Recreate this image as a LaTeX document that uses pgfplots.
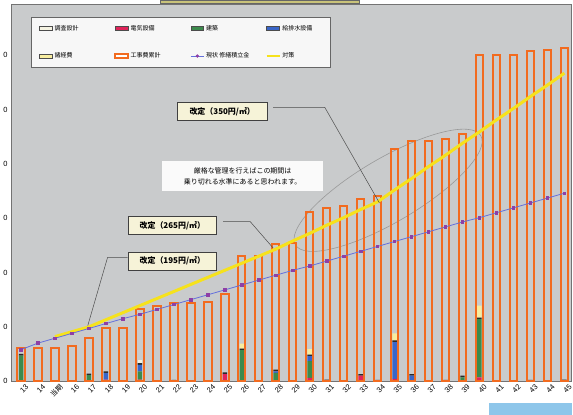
\documentclass[border=0pt]{standalone}
\usepackage{pgfplots}
\pgfplotsset{compat=1.18}
\usepackage{pgfplotstable}
\usepackage{fontspec}
\setmainfont{Noto Sans CJK JP}
\newfontfamily\latinfont{Liberation Sans}
\newfontfamily\cjkfont{Noto Sans CJK JP}

\definecolor{plotbg}{HTML}{C9CBCC}
\definecolor{barorange}{HTML}{F26B1F}
\definecolor{elec}{HTML}{E0245A}
\definecolor{arch}{HTML}{3C8A4C}
\definecolor{water}{HTML}{3A66C8}
\definecolor{misc}{HTML}{F7EDA0}
\definecolor{survey}{HTML}{F5F3E2}
\definecolor{capc}{HTML}{2A2A2A}
\definecolor{fundline}{HTML}{6470DC}
\definecolor{fundmark}{HTML}{8E3FA6}
\definecolor{planline}{HTML}{F6E21C}
\definecolor{boxfill}{HTML}{F6F3D8}
\definecolor{titlefill}{HTML}{C9C37A}
\definecolor{scanblue}{HTML}{8EC6EA}

% yearly cost components (stacked)
\pgfplotstableread{
i red green blue cap cream survey
0 0 0.47 0 0.03 0 0
1 0 0 0 0 0 0
2 0 0 0 0 0 0
3 0 0 0 0 0 0
4 0 0.11 0 0.03 0 0
5 0.03 0 0.12 0.03 0 0
6 0 0 0 0 0 0
7 0.03 0.15 0.12 0.03 0 0.05
8 0 0 0 0 0 0
9 0 0 0 0.025 0 0
10 0 0 0 0 0 0
11 0 0 0 0 0 0
12 0.13 0 0 0.03 0 0
13 0.02 0.55 0 0.03 0.09 0
14 0 0 0 0 0 0
15 0 0.15 0.03 0.03 0 0
16 0 0 0 0 0 0
17 0.06 0.31 0.09 0.03 0.10 0
18 0 0 0 0.03 0 0
19 0 0 0 0 0 0
20 0.10 0 0 0.03 0 0
21 0 0 0 0.025 0 0
22 0.04 0 0.68 0.03 0.13 0
23 0 0 0.10 0.03 0 0
24 0 0 0 0 0 0
25 0 0 0 0.025 0 0
26 0 0.07 0 0.03 0 0
27 0.07 1.07 0 0.03 0.22 0
28 0 0 0 0 0 0
29 0 0 0 0 0 0
30 0 0 0 0.025 0 0
31 0 0 0 0 0 0
32 0 0 0 0.03 0 0
}\stacktab

% cumulative construction cost
\pgfplotstableread{
i total
0 0.61
1 0.61
2 0.61
3 0.65
4 0.80
5 0.98
6 0.98
7 1.33
8 1.38
9 1.44
10 1.44
11 1.45
12 1.61
13 2.31
14 2.31
15 2.53
16 2.55
17 3.12
18 3.19
19 3.22
20 3.35
21 3.40
22 4.28
23 4.42
24 4.42
25 4.45
26 4.55
27 6.00
28 6.01
29 6.01
30 6.07
31 6.09
32 6.14
}\totaltab

% current reserve fund
\pgfplotstableread{
i fund
0 0.58
1 0.70
2 0.79
3 0.88
4 0.97
5 1.06
6 1.15
7 1.23
8 1.32
9 1.41
10 1.50
11 1.59
12 1.68
13 1.77
14 1.86
15 1.95
16 2.04
17 2.12
18 2.21
19 2.30
20 2.39
21 2.48
22 2.57
23 2.66
24 2.75
25 2.84
26 2.93
27 3.01
28 3.10
29 3.19
30 3.28
31 3.37
32 3.46
}\fundtab

% countermeasure plan
\pgfplotstableread{
i plan
2 0.82
3 0.91
4 1.00
5 1.13
6 1.26
7 1.39
8 1.52
9 1.65
10 1.78
11 1.91
12 2.04
13 2.17
14 2.30
15 2.43
16 2.58
17 2.72
18 2.87
19 3.01
20 3.16
21 3.30
22 3.52
23 3.73
24 3.95
25 4.16
26 4.38
27 4.59
28 4.81
29 5.02
30 5.24
31 5.45
32 5.67
}\plantab

\pgfplotsset{
  common/.style={
    scale only axis, width=563pt, height=378.5pt,
    xmin=-0.59, xmax=32.43, ymin=0, ymax=6.94,
    clip=false,
  },
}

\begin{document}
\begin{tikzpicture}
\begin{axis}[common,
  axis background/.style={fill=plotbg},
  axis line style={draw=black!55, line width=0.6pt},
  xtick={0,...,32},
  xticklabels={13,14,{\cjkfont\fontsize{7}{8}\selectfont 当期},16,17,18,19,20,21,22,23,24,25,26,27,28,29,30,31,32,33,34,35,36,37,38,39,40,41,42,43,44,45},
  ytick={0,1,2,3,4,5,6},
  yticklabels={0,0,0,0,0,0,0},
  major tick length=0pt,
  tick style={draw=none},
  xticklabel style={rotate=45, anchor=north east, font=\latinfont\fontsize{7.5}{8}\selectfont, inner sep=0.5pt, yshift=-4pt, xshift=2pt},
  yticklabel style={font=\latinfont\fontsize{7.5}{8}\selectfont},
  ybar stacked, bar width=4.5pt,
]
\addplot[fill=elec, draw=none] table[x=i,y=red]{\stacktab};
\addplot[fill=arch, draw=none] table[x=i,y=green]{\stacktab};
\addplot[fill=water, draw=none] table[x=i,y=blue]{\stacktab};
\addplot[fill=capc, draw=none] table[x=i,y=cap]{\stacktab};
\addplot[fill=misc, draw=none] table[x=i,y=cream]{\stacktab};
\addplot[fill=survey, draw=none] table[x=i,y=survey]{\stacktab};
% cut-off title box at the top and scan mark at bottom right
\fill[titlefill, draw=black!60] ([yshift=1pt]axis description cs:0.266,1) rectangle ([yshift=4pt]axis description cs:0.6217,1);
\fill[scanblue] ([yshift=-22pt]axis description cs:0.853,0) rectangle ([yshift=-34pt]axis description cs:1,0);
\end{axis}

\begin{axis}[common,
  hide axis,
  legend columns=4,
  legend cell align=left,
  legend style={at={(0.0355,0.9657)}, anchor=north west, fill=white!97!black, draw=black!60, line width=0.5pt,
    font=\fontsize{6}{7}\selectfont, row sep=17pt, inner xsep=8pt, inner ysep=6pt,
    /tikz/every even column/.append style={column sep=4pt}},
]
\addlegendimage{legend image code/.code={\draw[fill=survey,draw=black!70,line width=0.6pt] (0pt,-2pt) rectangle (13pt,2pt);}}
\addlegendentry{\makebox[54pt][l]{調査設計}}
\addlegendimage{legend image code/.code={\draw[fill=elec,draw=black!70,line width=0.6pt] (0pt,-2pt) rectangle (13pt,2pt);}}
\addlegendentry{\makebox[54pt][l]{電気設備}}
\addlegendimage{legend image code/.code={\draw[fill=arch,draw=black!70,line width=0.6pt] (0pt,-2pt) rectangle (13pt,2pt);}}
\addlegendentry{\makebox[54pt][l]{建築}}
\addlegendimage{legend image code/.code={\draw[fill=water,draw=black!70,line width=0.6pt] (0pt,-2pt) rectangle (13pt,2pt);}}
\addlegendentry{\makebox[38pt][l]{給排水設備}}
\addlegendimage{legend image code/.code={\draw[fill=misc,draw=black!70,line width=0.6pt] (0pt,-2pt) rectangle (13pt,2pt);}}
\addlegendentry{\makebox[54pt][l]{諸経費}}
\addlegendimage{legend image code/.code={\draw[fill=white,draw=barorange,line width=1.4pt] (0pt,-2pt) rectangle (13pt,2pt);}}
\addlegendentry{\makebox[54pt][l]{工事費累計}}
\addlegendimage{legend image code/.code={\draw[fundline,line width=0.7pt] (0pt,0pt) -- (13pt,0pt); \fill[fundmark] (6.5pt,0pt) circle (1.4pt);}}
\addlegendentry{\makebox[54pt][l]{現状 修繕積立金}}
\addlegendimage{legend image code/.code={\draw[planline,line width=1.6pt] (0pt,0pt) -- (13pt,0pt);}}
\addlegendentry{\makebox[38pt][l]{対策}}

% ellipse
\begin{scope}[shift={(axis cs:21.11,3.42)}]
\draw[black!40, line width=0.6pt, rotate=30.5] (0,0) ellipse (108pt and 32pt);
\end{scope}

\addplot[ybar, bar width=7.5pt, bar shift=0pt, draw=barorange, line width=2pt, fill=none, forget plot] table[x=i,y=total]{\totaltab};
\addplot[planline, line width=3pt, forget plot] table[x=i,y=plan]{\plantab};
\addplot[fundline, line width=0.8pt, mark=square*, mark size=1.3pt, mark options={fill=fundmark, draw=fundmark}, forget plot] table[x=i,y=fund]{\fundtab};

% leaders
\draw[black!70, line width=0.5pt] (axis cs:14.84,5.04) -- (axis cs:17.89,5.04) -- (axis cs:21.11,3.28);
\draw[black!70, line width=0.5pt] (axis cs:11.9,2.94) -- (axis cs:13.49,2.94) -- (axis cs:14.85,2.45);
\draw[black!70, line width=0.5pt] (axis cs:6.28,2.28) -- (axis cs:5.10,2.28) -- (axis cs:3.93,1.02);

\tikzset{revbox/.style={draw=black!75, fill=boxfill, line width=0.7pt, inner sep=0pt, minimum height=18pt, font=\bfseries\fontsize{8}{9}\selectfont}}
\node[revbox, minimum width=91pt] at (axis cs:11.85,4.96) {改定（350円/㎡）};
\node[revbox, minimum width=89pt] at (axis cs:8.91,2.87) {改定（265円/㎡）};
\node[revbox, minimum width=89pt] at (axis cs:8.91,2.21) {改定（195円/㎡）};
\node[fill=white!98!black, minimum width=161pt, minimum height=30pt, align=center, inner sep=0pt, font=\fontsize{7}{10.5}\selectfont] at (axis cs:13.05,3.77) {厳格な管理を行えばこの期間は\\乗り切れる水準にあると思われます。};
\end{axis}
\end{tikzpicture}
\end{document}
